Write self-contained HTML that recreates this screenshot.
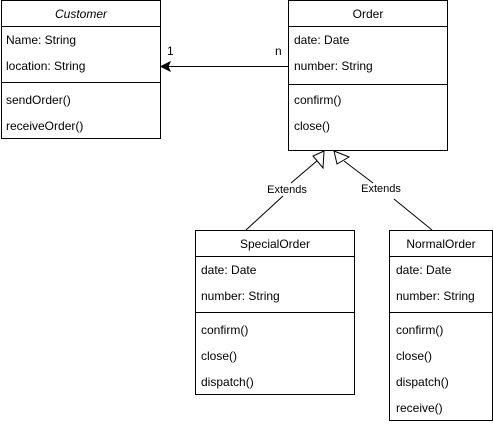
<!DOCTYPE html>
<html><head><style>body{margin:0;background:#fff}svg{display:block}text{font-family:"Liberation Sans",Arial,sans-serif;font-size:12px;fill:#000}</style></head><body>
<svg width="493" height="424" viewBox="0 0 493 424" xmlns="http://www.w3.org/2000/svg">
<g fill="#fff" stroke="#000" stroke-width="1">
<rect x="1.5" y="0.5" width="159" height="138"/>
<line x1="1.5" y1="26.5" x2="160.5" y2="26.5"/>
<line x1="1.5" y1="82.5" x2="160.5" y2="82.5"/>
<rect x="288.5" y="0.5" width="159" height="150"/>
<line x1="288.5" y1="26.5" x2="447.5" y2="26.5"/>
<line x1="288.5" y1="84.5" x2="447.5" y2="84.5"/>
<rect x="195.5" y="230.5" width="159" height="164"/>
<line x1="195.5" y1="256.5" x2="354.5" y2="256.5"/>
<line x1="195.5" y1="312.5" x2="354.5" y2="312.5"/>
<rect x="389.5" y="230.5" width="103" height="190"/>
<line x1="389.5" y1="256.5" x2="492.5" y2="256.5"/>
<line x1="389.5" y1="312.5" x2="492.5" y2="312.5"/>
</g>
<text x="81" y="18" text-anchor="middle" font-style="italic">Customer</text>
<text x="6" y="44">Name: String</text>
<text x="6" y="70">location: String</text>
<text x="6" y="104">sendOrder()</text>
<text x="6" y="130">receiveOrder()</text>
<text x="368" y="18" text-anchor="middle">Order</text>
<text x="294" y="44">date: Date</text>
<text x="294" y="70">number: String</text>
<text x="294" y="104">confirm()</text>
<text x="294" y="130">close()</text>
<text x="275" y="248" text-anchor="middle">SpecialOrder</text>
<text x="201" y="274">date: Date</text>
<text x="201" y="300">number: String</text>
<text x="201" y="334">confirm()</text>
<text x="201" y="360">close()</text>
<text x="201" y="386">dispatch()</text>
<text x="441" y="248" text-anchor="middle">NormalOrder</text>
<text x="396" y="274">date: Date</text>
<text x="396" y="300">number: String</text>
<text x="396" y="334">confirm()</text>
<text x="396" y="360">close()</text>
<text x="396" y="386">dispatch()</text>
<text x="396" y="412">receive()</text>
<line x1="288" y1="66.5" x2="168" y2="66.5" stroke="#000"/>
<polygon points="161,66.5 170,62 168,66.5 170,71" fill="#000" stroke="#000"/>
<text x="167" y="55">1</text>
<text x="275" y="55">n</text>
<g stroke="#000" fill="none">
<line x1="246" y1="230" x2="283" y2="196"/>
<line x1="291" y1="183" x2="318" y2="160"/>
<polygon points="324,151 313,156 323,168" fill="#fff"/>
<line x1="432" y1="230" x2="394" y2="199"/>
<line x1="373" y1="183" x2="344" y2="161"/>
<polygon points="334,151 337,164 349,157" fill="#fff"/>
</g>
<text x="287" y="193" text-anchor="middle" font-size="11" style="font-size:11px">Extends</text>
<text x="381" y="192" text-anchor="middle" style="font-size:11px">Extends</text>
</svg>
</body></html>
